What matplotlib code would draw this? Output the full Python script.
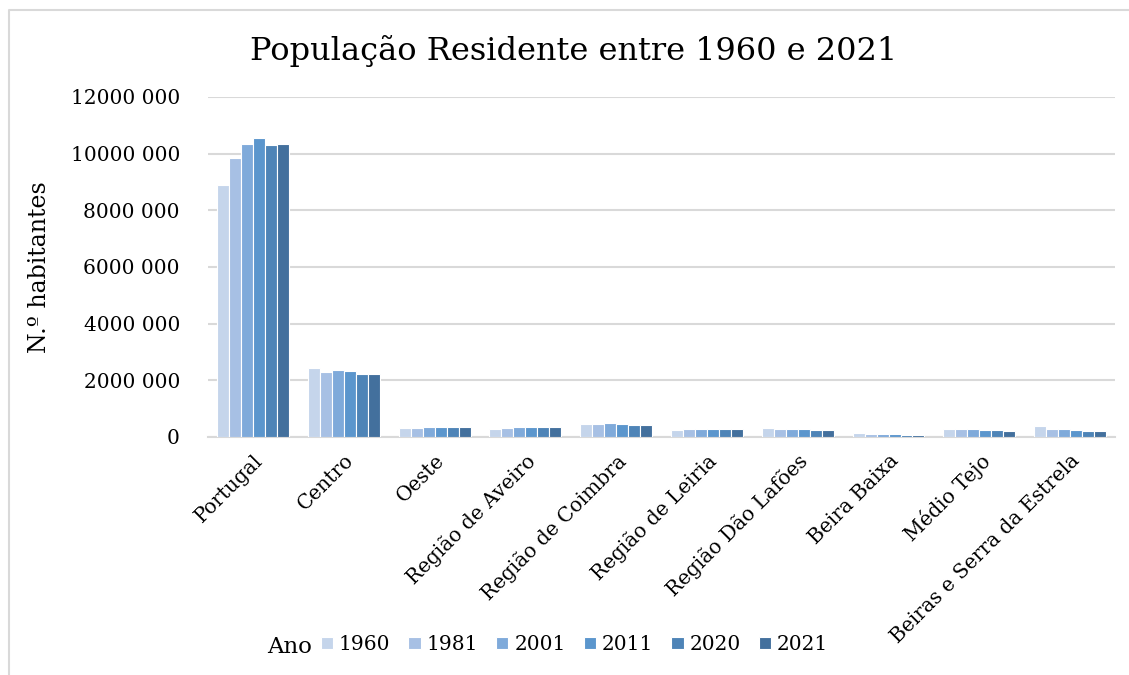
import numpy as np
import matplotlib
matplotlib.use("Agg")
import matplotlib.pyplot as plt
from matplotlib.lines import Line2D

# -------------------------
# DATA
# -------------------------
regioes = ["Portugal", "Centro", "Oeste", "Região de Aveiro", "Região de Coimbra",
           "Região de Leiria", "Região Dão Lafões", "Beira Baixa", "Médio Tejo",
           "Beiras e Serra da Estrela"]
anos = ["1960", "1981", "2001", "2011", "2020", "2021"]

pop_1960 = [8889000, 2420000, 300000, 270000, 459000, 255000, 306000, 141000, 294000, 376000]
pop_1981 = [9833000, 2290000, 318000, 310000, 459000, 268000, 284000, 106000, 268000, 270000]
pop_2001 = [10356000, 2348000, 338000, 360000, 482000, 292000, 280000, 95000, 265000, 265000]
pop_2011 = [10562000, 2327000, 362000, 370000, 460000, 295000, 268000, 90000, 247000, 236000]
pop_2020 = [10298000, 2230000, 360000, 367000, 437000, 287000, 255000, 83000, 230000, 212000]
pop_2021 = [10343000, 2227000, 359000, 367000, 436000, 287000, 253000, 81000, 228000, 211000]

cores = ["#C5D5EB", "#A7C0E4", "#7FAADA", "#5B96CD", "#4E84B7", "#43709D"]

yticks = [0, 2000000, 4000000, 6000000, 8000000, 10000000, 12000000]
ytick_labels = ["0", "2000 000", "4000 000", "6000 000", "8000 000", "10000 000", "12000 000"]

# -------------------------
# PLOT
# -------------------------
plt.rcParams["font.family"] = ["DejaVu Serif"]

fig = plt.figure(figsize=(11.29, 6.75), dpi=100)
ax = fig.add_axes([0.184, 0.3526, 0.804, 0.5037])

series = [pop_1960, pop_1981, pop_2001, pop_2011, pop_2020, pop_2021]
x = np.arange(len(regioes))
width = 0.132
for i, (vals, ano) in enumerate(zip(series, anos)):
    ax.bar(x + (i - 2.5) * width, vals, width, color=cores[i], edgecolor="white",
           linewidth=0.8, label=ano, zorder=3)

ax.set_xlim(-0.5, len(regioes) - 0.5)
ax.set_ylim(0, 12000000)
ax.set_yticks(yticks)
ax.set_yticklabels(ytick_labels, fontsize=14.5)
ax.set_xticks(x)
ax.set_xticklabels(regioes, rotation=45, ha="right", rotation_mode="anchor", fontsize=14.5)
ax.tick_params(axis="y", length=0, pad=20)
ax.tick_params(axis="x", length=0, pad=10)
ax.grid(axis="y", color="#D9D9D9", linewidth=1.5, zorder=0)
for s in ["top", "right", "left"]:
    ax.spines[s].set_visible(False)
ax.spines["bottom"].set_color("#D9D9D9")
ax.spines["bottom"].set_linewidth(1.5)

ax.set_ylabel("N.º habitantes", fontsize=17, labelpad=14)
fig.text(0.508, 0.925, "População Residente entre 1960 e 2021", ha="center", va="center",
         fontsize=23)

# legend with "Ano" to the left
fig.text(0.237, 0.041, "Ano", ha="left", va="center", fontsize=16.5)
fig.legend(loc="center left", bbox_to_anchor=(0.268, 0.045), ncol=6, frameon=False,
           fontsize=14.5, handlelength=0.6, handleheight=0.6, handletextpad=0.3,
           columnspacing=0.9)

# chart border (only top and left edges visible in the crop)
fig.add_artist(Line2D([0.008, 0.008, 1.0], [0.0, 0.985, 0.985], transform=fig.transFigure,
                      color="#D9D9D9", linewidth=1.5))

fig.savefig("out.png", dpi=100)
